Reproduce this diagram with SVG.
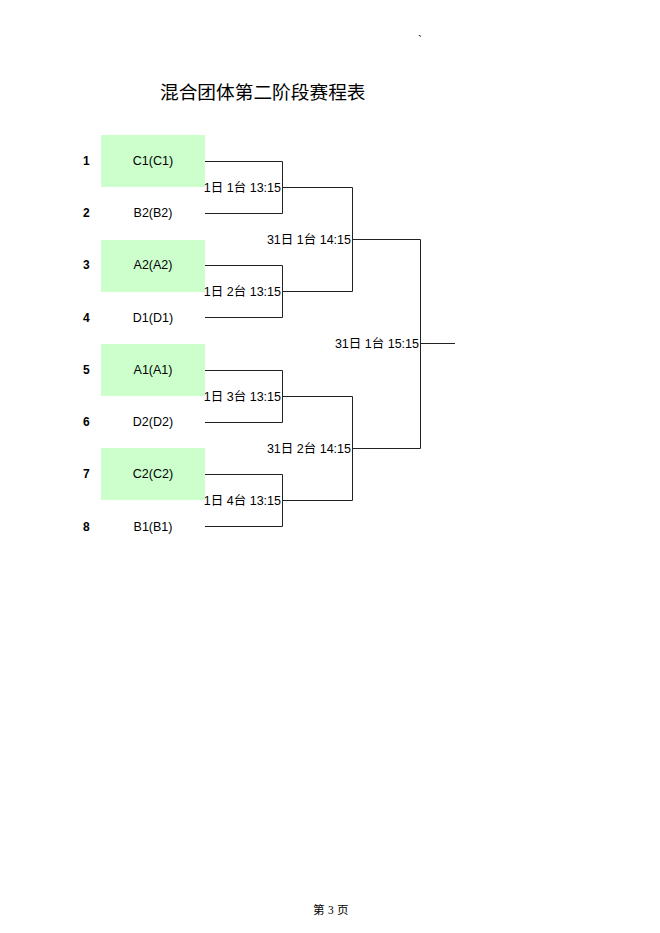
<svg xmlns="http://www.w3.org/2000/svg" width="660" height="933" viewBox="0 0 660 933">
<style>
.bg{fill:#ffffff}
.box{fill:#ccffcc}
.num{font-family:"Liberation Sans",Arial,sans-serif;font-size:12px;font-weight:bold;fill:#000}
.name{font-family:"Liberation Sans",Arial,sans-serif;font-size:12.5px;fill:#000;text-anchor:middle}
.lbl{font-family:"Liberation Sans","Noto Sans CJK SC",sans-serif;font-size:12.5px;fill:#000;text-anchor:end}
.title{font-family:"Liberation Sans","Noto Sans CJK SC",sans-serif;font-size:18.7px;fill:#000}
.foot{font-family:"Liberation Serif","Noto Sans CJK SC",serif;font-size:11.5px;fill:#000}
.ln{fill:none;stroke:#222;stroke-width:1}
</style>
<rect class="bg" x="0" y="0" width="660" height="933"/>
<text x="418" y="44" class="foot">`</text>
<text x="160" y="99" class="title">混合团体第二阶段赛程表</text>
<g id="players">
<g id="p1"><rect class="box" x="101" y="135" width="104" height="52"/><text class="num" x="83" y="165">1</text><text class="name" x="153" y="165">C1(C1)</text></g>
<g id="p2"><text class="num" x="83" y="217">2</text><text class="name" x="153" y="217">B2(B2)</text></g>
<g id="p3"><rect class="box" x="101" y="240" width="104" height="52"/><text class="num" x="83" y="269">3</text><text class="name" x="153" y="269">A2(A2)</text></g>
<g id="p4"><text class="num" x="83" y="322">4</text><text class="name" x="153" y="322">D1(D1)</text></g>
<g id="p5"><rect class="box" x="101" y="344" width="104" height="52"/><text class="num" x="83" y="374">5</text><text class="name" x="153" y="374">A1(A1)</text></g>
<g id="p6"><text class="num" x="83" y="426">6</text><text class="name" x="153" y="426">D2(D2)</text></g>
<g id="p7"><rect class="box" x="101" y="448" width="104" height="52"/><text class="num" x="83" y="478">7</text><text class="name" x="153" y="478">C2(C2)</text></g>
<g id="p8"><text class="num" x="83" y="531">8</text><text class="name" x="153" y="531">B1(B1)</text></g>
</g>
<g id="connectors">
<path class="ln" d="M205 161.5H282.5V213.5H205M282.5 187.5H352.5"/>
<path class="ln" d="M205 265.5H282.5V317.5H205M282.5 291.5H352.5"/>
<path class="ln" d="M205 370.5H282.5V422.5H205M282.5 396.5H352.5"/>
<path class="ln" d="M205 474.5H282.5V526.5H205M282.5 500.5H352.5"/>
<path class="ln" d="M352.5 187.5V291.5M352.5 239.5H420.5"/>
<path class="ln" d="M352.5 396.5V500.5M352.5 448.5H420.5"/>
<path class="ln" d="M420.5 239.5V448.5M420.5 343.5H455"/>
</g>
<g id="labels">
<text class="lbl" x="281" y="192">1日 1台 13:15</text>
<text class="lbl" x="281" y="296">1日 2台 13:15</text>
<text class="lbl" x="281" y="401">1日 3台 13:15</text>
<text class="lbl" x="281" y="505">1日 4台 13:15</text>
<text class="lbl" x="351" y="244">31日 1台 14:15</text>
<text class="lbl" x="351" y="453">31日 2台 14:15</text>
<text class="lbl" x="419" y="348">31日 1台 15:15</text>
</g>
<g id="footer">
<text x="313" y="914" class="foot">第</text>
<text x="328" y="914" class="foot">3</text>
<text x="337" y="914" class="foot">页</text>
</g>
</svg>
